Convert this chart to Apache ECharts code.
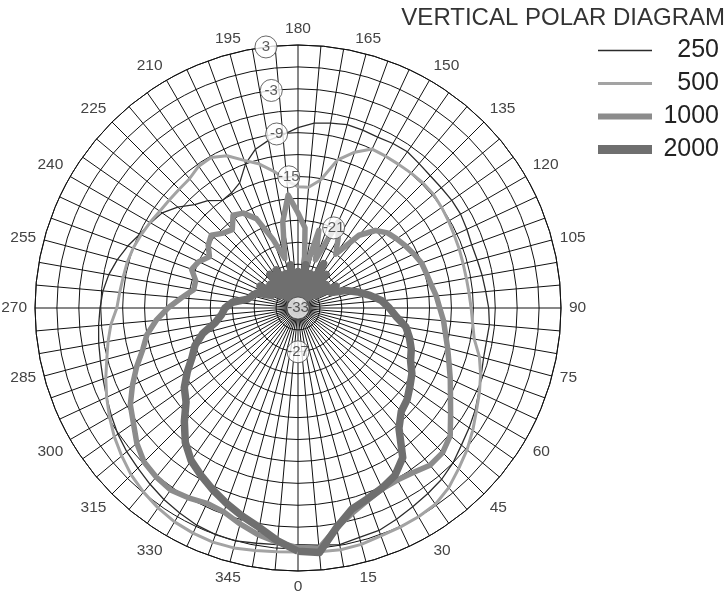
<!DOCTYPE html>
<html><head><meta charset="utf-8">
<script src="https://cdn.jsdelivr.net/npm/echarts@6/dist/echarts.min.js"></script>
<style>html,body{margin:0;padding:0;background:#fff}#c{width:728px;height:599px}</style>
</head><body><div id="c"></div>
<script>
// angles in degrees, 0 at bottom, counter-clockwise (5 degree steps 0..355)
const angles = [0,5,10,15,20,25,30,35,40,45,50,55,60,65,70,75,80,85,90,95,100,105,110,115,120,125,130,135,140,145,150,155,160,165,170,175,180,185,190,195,200,205,210,215,220,225,230,235,240,245,250,255,260,265,270,275,280,285,290,295,300,305,310,315,320,325,330,335,340,345,350,355];
const s250 = [-0.6,-0.4,-0.1,-0.5,-0.6,-1.1,-1.6,-2.0,-2.4,-3.0,-3.8,-4.4,-5.0,-5.7,-6.3,-6.7,-6.8,-6.7,-6.9,-7.2,-7.4,-7.6,-7.7,-7.5,-7.3,-7.3,-7.4,-7.4,-7.2,-6.9,-7.0,-7.2,-7.1,-7.0,-7.3,-7.6,-8.3,-9.2,-9.7,-10.5,-12.0,-14.1,-14.8,-15.0,-13.8,-13.0,-11.5,-10.3,-9.7,-9.1,-8.2,-7.4,-6.7,-6.2,-5.9,-5.6,-5.3,-5.0,-4.6,-4.1,-3.5,-2.9,-2.4,-2.0,-1.5,-1.0,-0.6,-0.2,0.0,0.0,-0.3,-0.5];
const s500 = [0.4,0.5,0.6,0.5,0.2,0.1,0.0,-0.2,-0.9,-1.9,-2.8,-3.8,-4.8,-5.6,-6.4,-7.3,-8.5,-9.0,-9.3,-9.5,-9.6,-9.6,-9.5,-9.4,-9.2,-9.0,-8.8,-8.8,-8.9,-9.0,-9.0,-9.0,-10.3,-12.0,-15.2,-16.4,-16.4,-15.5,-14.0,-12.6,-11.5,-10.0,-9.2,-9.3,-9.9,-10.0,-10.0,-9.9,-9.6,-9.3,-9.0,-8.8,-8.7,-8.5,-8.2,-7.3,-6.6,-5.9,-5.0,-4.1,-3.2,-2.3,-1.5,-0.7,-0.1,0.4,0.8,1.0,1.1,1.0,0.7,0.5];
const s1000 = [-0.2,0.0,-2.5,-4.0,-5.0,-5.7,-5.8,-5.5,-4.9,-5.0,-5.8,-7.5,-8.9,-10.0,-11.0,-11.8,-12.5,-13.0,-13.6,-14.0,-14.5,-14.8,-15.0,-15.5,-16.0,-16.5,-17.0,-18.0,-20.0,-24.0,-22.0,-20.0,-26.0,-22.0,-28.0,-22.0,-20.0,-17.5,-21.0,-26.0,-23.0,-19.5,-18.0,-17.5,-19.0,-18.5,-17.5,-18.0,-19.0,-18.0,-17.5,-18.5,-18.5,-17.0,-15.2,-13.5,-12.0,-11.0,-9.5,-8.0,-6.5,-5.5,-4.2,-3.2,-2.8,-2.6,-3.0,-3.5,-3.3,-2.4,-1.5,-0.8];
const s2000 = [0.3,0.6,-2.5,-4.5,-5.2,-5.8,-6.5,-8.0,-11.5,-13.0,-13.5,-14.3,-15.0,-16.0,-16.5,-17.2,-18.0,-19.5,-20.5,-21.5,-23.0,-24.5,-26.0,-28.0,-27.0,-30.0,-28.0,-31.0,-27.0,-30.0,-26.0,-31.0,-28.0,-31.0,-27.0,-32.0,-28.0,-31.0,-27.0,-30.0,-28.0,-31.0,-27.0,-30.0,-27.0,-31.0,-28.0,-30.0,-27.0,-29.0,-27.0,-26.5,-26.0,-24.0,-23.0,-22.5,-21.5,-19.5,-18.0,-17.0,-15.5,-14.0,-13.0,-11.0,-9.0,-7.5,-6.5,-5.5,-4.5,-3.5,-2.5,-1.0];
const seriesNames = ['250','500','1000','2000'];
const angleLabels = [0,15,30,45,60,75,90,105,120,135,150,165,180,195,210,225,240,255,270,285,300,315,330,345];
// radial dB labels: [dB, angle]
const dbLabelValues = [3,-3,-9,-15,-21,-27,-33];
const dbLabelAngles = [187,187,187,184,156,0,0];

function closed(vals){
  const d = angles.map((a,i)=>[vals[i], a]);
  d.push([vals[0], 360]);
  return d;
}
const styles = [
  {color:'#2b2b2b', width:1.3, icon:1.5},
  {color:'#a3a3a3', width:3, icon:3},
  {color:'#8c8c8c', width:5.5, icon:6},
  {color:'#6f6f6f', width:7.5, icon:9}
];
const allVals = [s250,s500,s1000,s2000];
const series = allVals.map((v,i)=>({
  name: seriesNames[i], type:'line', coordinateSystem:'polar',
  data: closed(v), showSymbol:false, symbol:'none', smooth:false, z: 3+i,
  lineStyle:{color:styles[i].color, width:styles[i].width, join:'round'},
  itemStyle:{color:styles[i].color}, silent:true, animation:false
}));
series.push({
  type:'scatter', coordinateSystem:'polar', z:20, animation:false,
  data: dbLabelValues.map((v,i)=>[v, dbLabelAngles[i]]),
  symbol:'circle', symbolSize:22,
  itemStyle:{color:'#fff', borderColor:'#444', borderWidth:1},
  label:{show:true, position:'inside', formatter:p=>String(p.value[0]), fontSize:15, color:'#333', fontFamily:'Liberation Sans'}
});
const legendCenters = [51,84,117,150];
const legends = seriesNames.map((n,i)=>({
  data:[n], left:598, top:legendCenters[i]-13, padding:0, icon:'rect', itemWidth:54, itemHeight:styles[i].icon,
  formatter: name => '{n|' + name + '}',
  textStyle:{rich:{n:{width:62, align:'right', fontSize:25, color:'#222', fontFamily:'Liberation Sans'}}},
  selectedMode:false
}));
const chart = echarts.init(document.getElementById('c'), null, {renderer:'canvas'});
chart.setOption({
  animation:false,
  title:{text:'VERTICAL POLAR DIAGRAM', right:3, top:6, padding:0, textStyle:{fontSize:24, fontWeight:'normal', color:'#333', fontFamily:'Liberation Sans'}},
  legend: legends,
  polar:{center:[298,308], radius:263},
  angleAxis:{
    type:'value', min:0, max:360, interval:5, startAngle:270, clockwise:false,
    axisLine:{show:true, lineStyle:{color:'#111', width:1}},
    axisTick:{show:false},
    splitLine:{show:true, lineStyle:{color:'#111', width:1}},
    axisLabel:{margin:8, fontSize:15.5, color:'#444', fontFamily:'Liberation Sans',
      formatter:v=> angleLabels.indexOf(v)>=0 ? String(v) : ''}
  },
  radiusAxis:{
    type:'value', min:-33, max:3, interval:3,
    axisLine:{show:false}, axisTick:{show:false}, axisLabel:{show:false},
    splitLine:{show:true, lineStyle:{color:'#111', width:1}}
  },
  series: series
});
</script></body></html>
